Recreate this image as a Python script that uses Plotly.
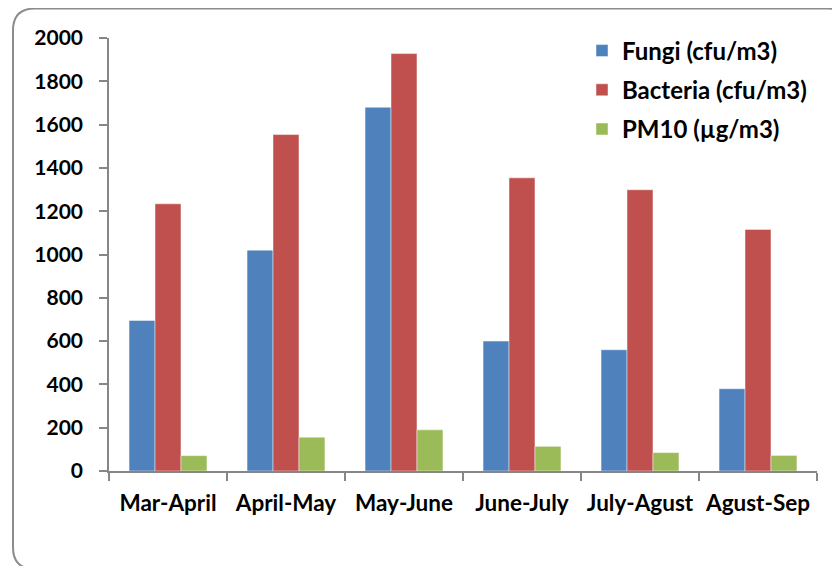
import plotly.graph_objects as go

categories = ["Mar-April", "April-May", "May-June", "June-July", "July-Agust", "Agust-Sep"]
fungi = [695, 1020, 1680, 600, 560, 380]
bacteria = [1234, 1554, 1928, 1354, 1299, 1116]
pm10 = [71, 156, 190, 114, 85, 72]
series_names = ["Fungi (cfu/m3)", "Bacteria (cfu/m3)", "PM10 (µg/m3)"]
y_ticks = [0, 200, 400, 600, 800, 1000, 1200, 1400, 1600, 1800, 2000]

colors = ["#4F81BD", "#C0504D", "#9BBB59"]
FONT = "Lato"

fig = go.Figure()
for i, (name, vals) in enumerate(zip(series_names, [fungi, bacteria, pm10])):
    fig.add_trace(go.Bar(
        x=categories, y=vals, name=name, legendgroup=f"g{i}",
        marker=dict(color=colors[i], line=dict(color="rgba(255,255,255,0.45)", width=1)),
    ))

# page body has an 8px margin; work in screen coordinates and offset
OFF = 8
W, H = 840, 566
plot_left, plot_right, plot_top, plot_bottom = 109, 817, 37.5, 470.7
L = plot_left - OFF
R = W - (plot_right - OFF)
T = plot_top - OFF
B = H - (plot_bottom - OFF)
pw, ph = plot_right - plot_left, plot_bottom - plot_top

def px(x):
    return (x - plot_left) / pw

def py(y):
    return (plot_bottom - y) / ph

# rounded chart-area border (screen coords)
x0, x1, y0, y1, r = 13, 850, 8, 569, 22
path = (
    f"M {px(x0)},{py(y0 + r)} "
    f"Q {px(x0)},{py(y0)} {px(x0 + r)},{py(y0)} "
    f"L {px(x1 - r)},{py(y0)} "
    f"Q {px(x1)},{py(y0)} {px(x1)},{py(y0 + r)} "
    f"L {px(x1)},{py(y1 - r)} "
    f"Q {px(x1)},{py(y1)} {px(x1 - r)},{py(y1)} "
    f"L {px(x0 + r)},{py(y1)} "
    f"Q {px(x0)},{py(y1)} {px(x0)},{py(y1 - r)} Z"
)

fig.update_layout(
    width=W, height=H,
    margin=dict(l=L, r=R, t=T, b=B, pad=0, autoexpand=False),
    paper_bgcolor="white", plot_bgcolor="white",
    font=dict(family=FONT, size=21, color="black", weight="bold"),
    barmode="group", bargap=0.34, bargroupgap=0,
    showlegend=True,
    legend=dict(
        x=px(582), y=py(28), xanchor="left", yanchor="top",
        font=dict(family=FONT, size=24, color="black", weight="bold"),
        tracegroupgap=5, bgcolor="rgba(0,0,0,0)",
    ),
    xaxis=dict(
        type="category", showline=True, linecolor="#868686", linewidth=1.5,
        ticks="outside", tickson="boundaries", ticklen=8, tickcolor="#868686", tickwidth=1.5,
        showgrid=False, zeroline=False, automargin=False, ticklabelstandoff=11,
        tickfont=dict(family=FONT, size=22.5, color="black", weight="bold"),
    ),
    yaxis=dict(
        range=[0, 2000], tickvals=y_ticks, ticktext=[str(v) for v in y_ticks],
        showline=True, linecolor="#868686", linewidth=1.5,
        ticks="outside", ticklen=8, tickcolor="#868686", tickwidth=1.5,
        showgrid=False, zeroline=False, automargin=False, ticklabelstandoff=12,
        tickfont=dict(family=FONT, size=21, color="black", weight="bold"),
    ),
    shapes=[dict(type="path", xref="paper", yref="paper", path=path,
                 line=dict(color="#8c8c8c", width=2), fillcolor="rgba(0,0,0,0)", layer="below")],
)

fig.write_html("out.html")
